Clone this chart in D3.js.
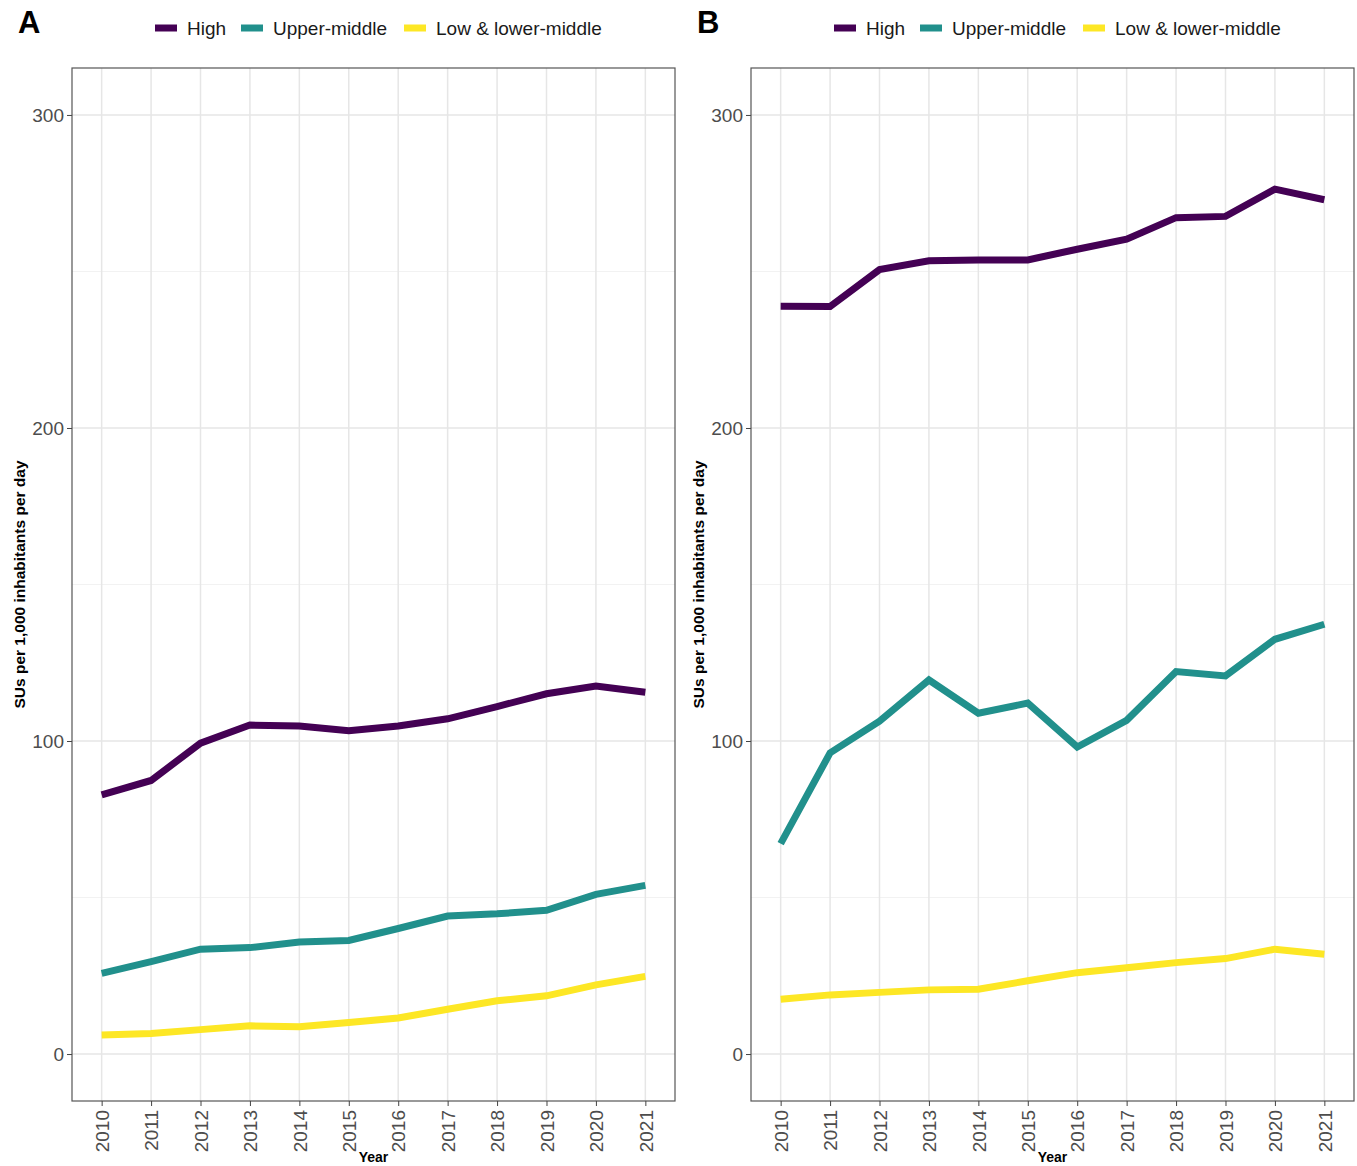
<!DOCTYPE html>
<html>
<head>
<meta charset="utf-8">
<script src="https://cdn.jsdelivr.net/npm/d3@7"></script>
<style>
body { margin: 0; background: #fff; }
text { font-family: "Liberation Sans", Arial, sans-serif; }
</style>
</head>
<body>
<div id="chart"></div>
<script>
var years = [2010, 2011, 2012, 2013, 2014, 2015, 2016, 2017, 2018, 2019, 2020, 2021];
var groups = ["High", "Upper-middle", "Low & lower-middle"];
var colors = ["#440154", "#21908C", "#FDE725"];

// panel A
var highA  = [82.8, 87.4, 99.3, 105.1, 104.8, 103.3, 104.8, 107.1, 111, 115.1, 117.6, 115.6];
var upperA = [25.8, 29.5, 33.5, 34, 35.8, 36.3, 40.1, 44.1, 44.8, 45.9, 51, 53.9];
var lowA   = [6.1, 6.6, 7.8, 9, 8.7, 10.1, 11.5, 14.3, 17, 18.6, 22.1, 24.8];
// panel B
var highB  = [238.9, 238.8, 250.6, 253.4, 253.7, 253.7, 257.1, 260.3, 267.2, 267.6, 276.3, 272.9];
var upperB = [67.2, 96.2, 106.3, 119.5, 108.9, 112.1, 98.1, 106.6, 122.2, 120.8, 132.5, 137.3];
var lowB   = [17.5, 18.9, 19.7, 20.5, 20.7, 23.4, 26, 27.6, 29.2, 30.5, 33.5, 31.9];

var yTicks = [0, 100, 200, 300];
var yMinor = [50, 150, 250];

var width = 1357, height = 1166;
var plotTop = 68, plotBottom = 1101;

var svg = d3.select("#chart").append("svg")
	.attr("width", width)
	.attr("height", height);

var y = d3.scaleLinear()
	.domain([-15, 315])
	.range([plotBottom, plotTop]);

function panel(label, left, right, series) {
	var g = svg.append("g");

	var x = d3.scalePoint()
		.domain(years)
		.range([left, right])
		.padding(0.6);

	// grid
	g.selectAll(".minor").data(yMinor).enter().append("line")
		.attr("x1", left).attr("x2", right)
		.attr("y1", (d) => y(d)).attr("y2", (d) => y(d))
		.attr("stroke", "#f2f2f2").attr("stroke-width", 1);
	g.selectAll(".major").data(yTicks).enter().append("line")
		.attr("x1", left).attr("x2", right)
		.attr("y1", (d) => y(d)).attr("y2", (d) => y(d))
		.attr("stroke", "#e6e6e6").attr("stroke-width", 1.5);
	g.selectAll(".vgrid").data(years).enter().append("line")
		.attr("x1", (d) => x(d)).attr("x2", (d) => x(d))
		.attr("y1", plotTop).attr("y2", plotBottom)
		.attr("stroke", "#e6e6e6").attr("stroke-width", 1.5);

	// lines
	var line = d3.line()
		.x((d, i) => x(years[i]))
		.y((d) => y(d));
	series.forEach((s, i) => {
		g.append("path")
			.datum(s)
			.attr("d", line)
			.attr("fill", "none")
			.attr("stroke", colors[i])
			.attr("stroke-width", 7);
	});

	// frame
	g.append("rect")
		.attr("x", left).attr("y", plotTop)
		.attr("width", right - left).attr("height", plotBottom - plotTop)
		.attr("fill", "none")
		.attr("stroke", "#555").attr("stroke-width", 1.2);

	// axes
	var yAxis = g.append("g")
		.attr("transform", "translate(" + left + ",0)")
		.call(d3.axisLeft(y).tickValues(yTicks).tickSize(5).tickPadding(3));
	yAxis.select(".domain").remove();
	yAxis.selectAll("line").attr("stroke", "#444");
	yAxis.selectAll("text")
		.attr("fill", "#4d4d4d")
		.style("font-size", "19px")
		.style("font-family", "'Liberation Sans', Arial, sans-serif");

	var xAxis = g.append("g")
		.attr("transform", "translate(0," + plotBottom + ")")
		.call(d3.axisBottom(x).tickSize(5));
	xAxis.select(".domain").remove();
	xAxis.selectAll("line").attr("stroke", "#444");
	xAxis.selectAll("text")
		.attr("fill", "#4d4d4d")
		.style("font-size", "19px")
		.style("font-family", "'Liberation Sans', Arial, sans-serif")
		.attr("text-anchor", "end")
		.attr("dy", "0.35em")
		.attr("x", -9)
		.attr("y", 0)
		.attr("transform", "rotate(-90)");

	// titles
	g.append("text")
		.attr("transform", "translate(" + (left - 47) + "," + ((plotTop + plotBottom) / 2) + ") rotate(-90)")
		.attr("text-anchor", "middle")
		.style("font-size", "15.5px")
		.style("font-weight", "bold")
		.text("SUs per 1,000 inhabitants per day");
	g.append("text")
		.attr("x", (left + right) / 2)
		.attr("y", 1162)
		.attr("text-anchor", "middle")
		.style("font-size", "14px")
		.style("font-weight", "bold")
		.text("Year");

	g.append("text")
		.attr("x", left - 54)
		.attr("y", 33)
		.style("font-size", "31px")
		.style("font-weight", "bold")
		.text(label);

	// legend
	var legX = [left + 83, left + 169, left + 332];
	groups.forEach((name, i) => {
		g.append("line")
			.attr("x1", legX[i]).attr("x2", legX[i] + 22)
			.attr("y1", 28).attr("y2", 28)
			.attr("stroke", colors[i]).attr("stroke-width", 7);
		g.append("text")
			.attr("x", legX[i] + 32)
			.attr("y", 35)
			.attr("fill", "#1a1a1a")
			.style("font-size", "19px")
			.text(name);
	});
}

panel("A", 72, 675, [highA, upperA, lowA]);
panel("B", 751, 1354, [highB, upperB, lowB]);
</script>
</body>
</html>
